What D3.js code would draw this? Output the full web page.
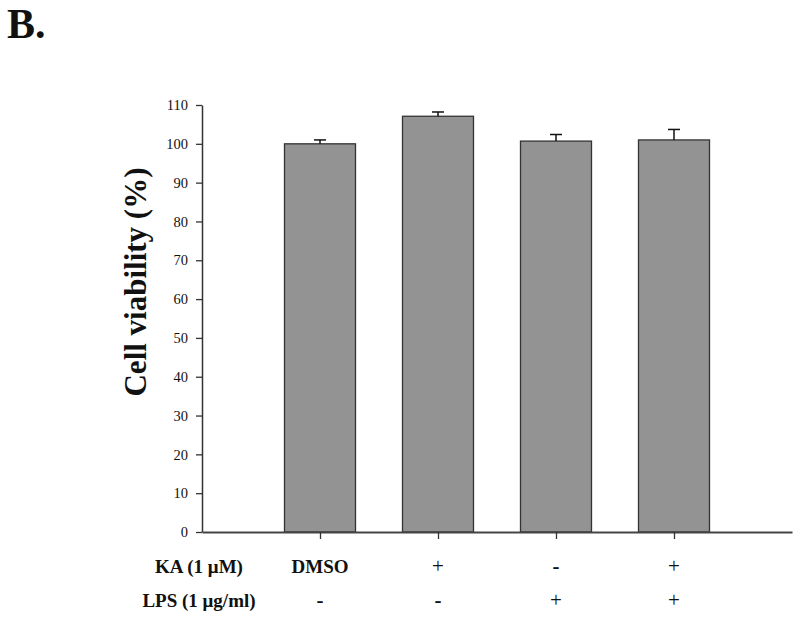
<!DOCTYPE html>
<html>
<head>
<meta charset="utf-8">
<script src="https://cdn.jsdelivr.net/npm/d3@7"></script>
<style>
  body { margin: 0; background: #fff; }
  svg { display: block; font-family: "Liberation Serif", "Times New Roman", serif; }
</style>
</head>
<body>
<div id="chart"></div>
<script>
// values
var groups = ["DMSO", "KA", "LPS", "KA+LPS"];
var viability = [100, 107.1, 100.7, 101.0];
var errors = [1.0, 1.1, 1.7, 2.7];
var kaRow = ["DMSO", "+", "-", "+"];
var lpsRow = ["-", "-", "+", "+"];
var yTicks = [0, 10, 20, 30, 40, 50, 60, 70, 80, 90, 100, 110];

var svgWidth = 800;
var svgHeight = 621;

var margin = { top: 105, right: 7, bottom: 89, left: 202 };
var chartWidth = svgWidth - margin.left - margin.right;
var chartHeight = svgHeight - margin.top - margin.bottom;

var svg = d3.select("#chart")
  .append("svg")
  .attr("width", svgWidth)
  .attr("height", svgHeight);

var chartGroup = svg.append("g")
  .attr("transform", `translate(${margin.left}, ${margin.top})`);

// slots 1..4 hold the bars, 0 and 5 are the empty ends of the axis
var xScale = d3.scaleLinear()
  .domain([0, 5])
  .range([0, 590]);

var yScale = d3.scaleLinear()
  .domain([0, 110])
  .range([chartHeight, 0]);

var barWidth = 71;

chartGroup.selectAll("rect.bar")
  .data(viability)
  .enter()
  .append("rect")
  .attr("class", "bar")
  .attr("x", (d, i) => xScale(i + 1) - barWidth / 2)
  .attr("y", d => yScale(d))
  .attr("width", barWidth)
  .attr("height", d => chartHeight - yScale(d))
  .attr("fill", "#939393")
  .attr("stroke", "#333")
  .attr("stroke-width", 1.3);

// upper error bars
var errGroup = chartGroup.selectAll("g.err")
  .data(viability)
  .enter()
  .append("g")
  .attr("class", "err")
  .attr("stroke", "#111")
  .attr("stroke-width", 1.5);

errGroup.append("line")
  .attr("x1", (d, i) => xScale(i + 1))
  .attr("x2", (d, i) => xScale(i + 1))
  .attr("y1", d => yScale(d))
  .attr("y2", (d, i) => yScale(d + errors[i]));

errGroup.append("line")
  .attr("x1", (d, i) => xScale(i + 1) - 6)
  .attr("x2", (d, i) => xScale(i + 1) + 6)
  .attr("y1", (d, i) => yScale(d + errors[i]))
  .attr("y2", (d, i) => yScale(d + errors[i]));

// y axis
var leftAxis = d3.axisLeft(yScale)
  .tickValues(yTicks)
  .tickSize(6)
  .tickSizeOuter(0)
  .tickPadding(8);

var yAxisG = chartGroup.append("g").call(leftAxis);
yAxisG.select(".domain").attr("stroke", "#333").attr("stroke-width", 1.5);
yAxisG.selectAll(".tick line").attr("stroke", "#333").attr("stroke-width", 1.3);
yAxisG.selectAll(".tick text")
  .attr("font-family", "Liberation Serif, Times New Roman, serif")
  .attr("font-size", "14.5px")
  .attr("fill", "#111");

// x axis line and ticks
var bottomAxis = d3.axisBottom(xScale)
  .tickValues([1, 2, 3, 4])
  .tickSize(7)
  .tickSizeOuter(0)
  .tickFormat("");

var xAxisG = chartGroup.append("g")
  .attr("transform", `translate(0, ${chartHeight})`)
  .call(bottomAxis);
xAxisG.select(".domain").attr("stroke", "#444").attr("stroke-width", 2);
xAxisG.selectAll(".tick line").attr("stroke", "#333").attr("stroke-width", 1.3);

// treatment rows below the axis
var rowLabelX = 199 - margin.left;

chartGroup.append("text")
  .attr("x", rowLabelX)
  .attr("y", chartHeight + 41)
  .attr("text-anchor", "middle")
  .attr("font-size", "19px")
  .attr("font-weight", "bold")
  .attr("fill", "#111")
  .text("KA (1 μM)");

chartGroup.append("text")
  .attr("x", rowLabelX)
  .attr("y", chartHeight + 75)
  .attr("text-anchor", "middle")
  .attr("font-size", "19px")
  .attr("font-weight", "bold")
  .attr("fill", "#111")
  .text("LPS (1 μg/ml)");

chartGroup.selectAll("text.ka")
  .data(kaRow)
  .enter()
  .append("text")
  .attr("class", "ka")
  .attr("x", (d, i) => xScale(i + 1))
  .attr("y", chartHeight + 41)
  .attr("text-anchor", "middle")
  .attr("font-size", d => d == "DMSO" ? "19px" : "21px")
  .attr("font-weight", d => (d == "DMSO" || d == "-") ? "bold" : "normal")
  .attr("fill", "#111")
  .text(d => d);

chartGroup.selectAll("text.lps")
  .data(lpsRow)
  .enter()
  .append("text")
  .attr("class", "lps")
  .attr("x", (d, i) => xScale(i + 1))
  .attr("y", chartHeight + 75)
  .attr("text-anchor", "middle")
  .attr("font-size", "21px")
  .attr("font-weight", d => d == "-" ? "bold" : "normal")
  .attr("fill", "#111")
  .text(d => d);

// y axis title
svg.append("text")
  .attr("transform", "translate(146, 282) rotate(-90)")
  .attr("text-anchor", "middle")
  .attr("font-size", "31px")
  .attr("font-weight", "bold")
  .attr("fill", "#111")
  .text("Cell viability (%)");

// panel letter
svg.append("text")
  .attr("x", 7)
  .attr("y", 38)
  .attr("font-size", "42px")
  .attr("font-weight", "bold")
  .attr("fill", "#111")
  .text("B.");
</script>
</body>
</html>
